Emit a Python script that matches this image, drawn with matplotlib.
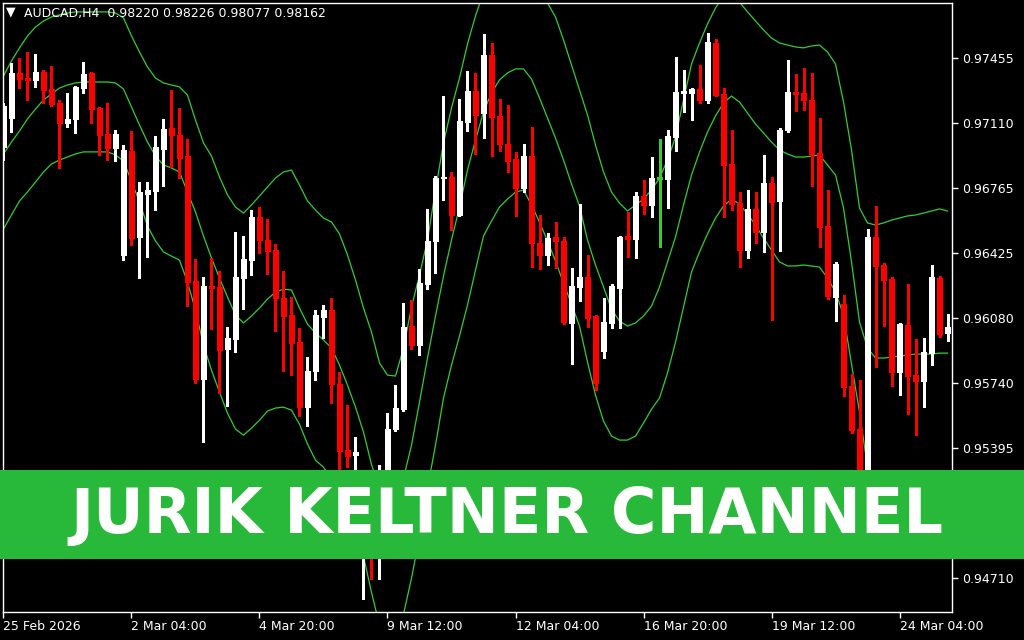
import matplotlib
matplotlib.use("Agg")
import matplotlib.pyplot as plt
from matplotlib.patches import Rectangle
import numpy as np

# ── AUDCAD H4 candles (bar index 0 = 25 Feb 2026) ─────────────
opens = [0.96987, 0.97140, 0.97378, 0.97351, 0.97341, 0.97383, 0.97293, 0.97219, 0.97114, 0.97135,
         0.97298, 0.97378, 0.97193, 0.97055, 0.96982, 0.96417, 0.96966, 0.96512, 0.96739, 0.96755,
         0.96976, 0.97087, 0.97050, 0.96939, 0.96280, 0.95762, 0.96253, 0.96248, 0.95920, 0.95973,
         0.96295, 0.96390, 0.96617, 0.96496, 0.96443, 0.96190, 0.96100, 0.95957, 0.95614, 0.95804,
         0.96089, 0.96126, 0.95736, 0.95387, 0.95360, 0.95123, 0.95229, 0.95017, 0.95176, 0.95498,
         0.95603, 0.96042, 0.95941, 0.96264, 0.96491, 0.96823, 0.96829, 0.96628, 0.97119, 0.97283,
         0.97166, 0.97473, 0.97151, 0.97003, 0.96924, 0.96770, 0.96939, 0.96480, 0.96417, 0.96512,
         0.96491, 0.96058, 0.96248, 0.96301, 0.96095, 0.95910, 0.96058, 0.96243, 0.96517, 0.96501,
         0.96728, 0.96681, 0.96823, 0.96818, 0.97040, 0.97276, 0.97272, 0.97293, 0.97235, 0.97536,
         0.97267, 0.96897, 0.96691, 0.96443, 0.96659, 0.96538, 0.96797, 0.96702, 0.97077, 0.97277,
         0.97272, 0.97235, 0.96955, 0.96570, 0.96195, 0.96158, 0.95725, 0.95498, 0.95176, 0.96512,
         0.96364, 0.96290, 0.95799, 0.96047, 0.95783, 0.95752, 0.95899, 0.96295, 0.96005]
highs = [0.97219, 0.97430, 0.97457, 0.97488, 0.97478, 0.97393, 0.97415, 0.97235, 0.97272, 0.97309,
         0.97436, 0.97383, 0.97198, 0.97219, 0.97077, 0.96997, 0.97071, 0.96802, 0.96802, 0.97045,
         0.97135, 0.97288, 0.97193, 0.97029, 0.96396, 0.96301, 0.96401, 0.96332, 0.96036, 0.96538,
         0.96517, 0.96654, 0.96670, 0.96607, 0.96475, 0.96332, 0.96195, 0.96031, 0.95878, 0.96126,
         0.96153, 0.96190, 0.95799, 0.95625, 0.95456, 0.95281, 0.95271, 0.95308, 0.95582, 0.95730,
         0.96163, 0.96179, 0.96343, 0.96659, 0.96834, 0.97256, 0.96855, 0.97240, 0.97388, 0.97378,
         0.97583, 0.97536, 0.97240, 0.97209, 0.96960, 0.97003, 0.97092, 0.96628, 0.96533, 0.96591,
         0.96512, 0.96348, 0.96686, 0.96417, 0.96100, 0.96190, 0.96264, 0.96517, 0.96644, 0.96749,
         0.96813, 0.96934, 0.97029, 0.97077, 0.97462, 0.97393, 0.97298, 0.97420, 0.97589, 0.97557,
         0.97298, 0.97077, 0.96749, 0.96760, 0.96749, 0.96945, 0.96829, 0.97087, 0.97446, 0.97372,
         0.97404, 0.97378, 0.97140, 0.96760, 0.96380, 0.96205, 0.95788, 0.95757, 0.96554, 0.96675,
         0.96375, 0.96301, 0.96058, 0.96264, 0.95973, 0.95978, 0.96364, 0.96306, 0.96105]
lows = [0.96918, 0.97066, 0.97298, 0.97235, 0.97304, 0.97219, 0.97203, 0.96876, 0.97092, 0.97061,
        0.97272, 0.97114, 0.96945, 0.96918, 0.96913, 0.96390, 0.96469, 0.96295, 0.96406, 0.96654,
        0.96781, 0.96881, 0.96823, 0.96147, 0.95741, 0.95429, 0.96026, 0.95688, 0.95619, 0.95904,
        0.96131, 0.96311, 0.96427, 0.96316, 0.96015, 0.95804, 0.95783, 0.95566, 0.95513, 0.95757,
        0.95978, 0.95635, 0.95255, 0.95296, 0.95281, 0.94600, 0.94706, 0.94706, 0.95123, 0.95487,
        0.95593, 0.95920, 0.95889, 0.96237, 0.96322, 0.96707, 0.96549, 0.96623, 0.97071, 0.96950,
        0.97034, 0.96939, 0.96966, 0.96855, 0.96623, 0.96749, 0.96353, 0.96343, 0.96364, 0.96348,
        0.96052, 0.95841, 0.96174, 0.96036, 0.95704, 0.95873, 0.96031, 0.96031, 0.96406, 0.96401,
        0.96633, 0.96617, 0.96459, 0.96665, 0.96966, 0.97172, 0.97129, 0.97219, 0.97219, 0.97256,
        0.96617, 0.96654, 0.96353, 0.96401, 0.96480, 0.96433, 0.96073, 0.96438, 0.97066, 0.97177,
        0.97182, 0.96781, 0.96459, 0.96184, 0.96068, 0.95672, 0.95477, 0.95097, 0.95123, 0.95825,
        0.96042, 0.95725, 0.95678, 0.95577, 0.95466, 0.95614, 0.95836, 0.95984, 0.95962]
closes = [0.97203, 0.97378, 0.97346, 0.97341, 0.97383, 0.97288, 0.97214, 0.97114, 0.97135, 0.97304,
          0.97372, 0.97187, 0.97050, 0.96982, 0.97055, 0.96971, 0.96506, 0.96749, 0.96760, 0.96987,
          0.97082, 0.97050, 0.96929, 0.96274, 0.95762, 0.96253, 0.96243, 0.95915, 0.95978, 0.96301,
          0.96396, 0.96617, 0.96496, 0.96438, 0.96190, 0.96095, 0.95952, 0.95614, 0.95804, 0.96100,
          0.96126, 0.95736, 0.95382, 0.95355, 0.95376, 0.95229, 0.95017, 0.95176, 0.95498, 0.95609,
          0.96036, 0.95941, 0.96269, 0.96491, 0.96823, 0.96829, 0.96628, 0.97124, 0.97283, 0.97156,
          0.97473, 0.97145, 0.97003, 0.96913, 0.96770, 0.96939, 0.96480, 0.96417, 0.96506, 0.96491,
          0.96063, 0.96253, 0.96301, 0.96084, 0.95741, 0.96063, 0.96253, 0.96512, 0.96501, 0.96728,
          0.96681, 0.96823, 0.96823, 0.97045, 0.97277, 0.97277, 0.97293, 0.97235, 0.97541, 0.97261,
          0.96892, 0.96686, 0.96443, 0.96659, 0.96538, 0.96797, 0.96696, 0.97077, 0.97277, 0.97267,
          0.97235, 0.96950, 0.96564, 0.96200, 0.96369, 0.95720, 0.95493, 0.95176, 0.96512, 0.96359,
          0.96285, 0.95799, 0.96052, 0.95778, 0.95752, 0.95904, 0.96301, 0.96000, 0.96036]

# Jurik Keltner channel (upper / middle / lower), one value per bar
kc_upper = [0.97362, 0.97441, 0.97510, 0.97573, 0.97620, 0.97652, 0.97673, 0.97684, 0.97694, 0.97700,
            0.97700, 0.97700, 0.97700, 0.97700, 0.97694, 0.97668, 0.97573, 0.97488, 0.97409, 0.97351,
            0.97325, 0.97314, 0.97304, 0.97261, 0.97129, 0.97008, 0.96939, 0.96829, 0.96734, 0.96670,
            0.96638, 0.96681, 0.96728, 0.96776, 0.96823, 0.96855, 0.96865, 0.96786, 0.96702, 0.96654,
            0.96612, 0.96591, 0.96528, 0.96417, 0.96285, 0.96137, 0.96010, 0.95847, 0.95783, 0.95778,
            0.95926, 0.96142, 0.96311, 0.96496, 0.96760, 0.97008, 0.97193, 0.97351, 0.97531, 0.97679,
            0.97805, 0.97879, 0.97943, 0.97974, 0.97985, 0.97974, 0.97921, 0.97826, 0.97747, 0.97673,
            0.97552, 0.97420, 0.97288, 0.97156, 0.96997, 0.96855, 0.96749, 0.96691, 0.96649, 0.96681,
            0.96712, 0.96760, 0.96823, 0.96918, 0.97040, 0.97235, 0.97425, 0.97536, 0.97636, 0.97721,
            0.97784, 0.97795, 0.97752, 0.97700, 0.97652, 0.97605, 0.97562, 0.97536, 0.97525, 0.97515,
            0.97510, 0.97520, 0.97525, 0.97488, 0.97425, 0.97224, 0.96971, 0.96665, 0.96586, 0.96575,
            0.96586, 0.96601, 0.96612, 0.96623, 0.96628, 0.96638, 0.96649, 0.96660, 0.96649]
kc_middle = [0.96950, 0.97013, 0.97071, 0.97135, 0.97187, 0.97235, 0.97267, 0.97298, 0.97314, 0.97325,
             0.97330, 0.97330, 0.97330, 0.97330, 0.97325, 0.97293, 0.97198, 0.97103, 0.97013, 0.96939,
             0.96892, 0.96876, 0.96855, 0.96749, 0.96644, 0.96517, 0.96401, 0.96295, 0.96195, 0.96100,
             0.96058, 0.96095, 0.96137, 0.96184, 0.96221, 0.96237, 0.96232, 0.96137, 0.96052, 0.96005,
             0.95968, 0.95926, 0.95836, 0.95730, 0.95614, 0.95482, 0.95311, 0.95186, 0.95123, 0.95155,
             0.95239, 0.95413, 0.95640, 0.95873, 0.96095, 0.96306, 0.96496, 0.96670, 0.96865, 0.97024,
             0.97172, 0.97272, 0.97341, 0.97378, 0.97399, 0.97399, 0.97346, 0.97246, 0.97140, 0.97034,
             0.96918, 0.96792, 0.96675, 0.96496, 0.96364, 0.96248, 0.96131, 0.96068, 0.96042, 0.96058,
             0.96095, 0.96147, 0.96248, 0.96380, 0.96512, 0.96681, 0.96839, 0.96960, 0.97066, 0.97151,
             0.97219, 0.97256, 0.97224, 0.97166, 0.97108, 0.97061, 0.97013, 0.96971, 0.96950, 0.96934,
             0.96934, 0.96939, 0.96945, 0.96892, 0.96839, 0.96665, 0.96380, 0.96063, 0.95926, 0.95873,
             0.95873, 0.95878, 0.95883, 0.95889, 0.95894, 0.95894, 0.95894, 0.95899, 0.95899]
kc_lower = [0.96554, 0.96628, 0.96702, 0.96749, 0.96802, 0.96855, 0.96897, 0.96918, 0.96934, 0.96950,
            0.96961, 0.96961, 0.96961, 0.96961, 0.96945, 0.96913, 0.96807, 0.96696, 0.96570, 0.96491,
            0.96433, 0.96411, 0.96390, 0.96274, 0.96126, 0.95941, 0.95809, 0.95693, 0.95582, 0.95498,
            0.95466, 0.95503, 0.95545, 0.95593, 0.95609, 0.95614, 0.95598, 0.95524, 0.95419, 0.95334,
            0.95297, 0.95234, 0.95128, 0.95023, 0.94912, 0.94827, 0.94637, 0.94463, 0.94373, 0.94384,
            0.94521, 0.94711, 0.94928, 0.95186, 0.95413, 0.95662, 0.95836, 0.95989, 0.96153, 0.96337,
            0.96517, 0.96596, 0.96670, 0.96712, 0.96749, 0.96760, 0.96681, 0.96591, 0.96491, 0.96385,
            0.96269, 0.96158, 0.96042, 0.95852, 0.95677, 0.95540, 0.95461, 0.95440, 0.95440, 0.95461,
            0.95530, 0.95603, 0.95662, 0.95794, 0.95957, 0.96142, 0.96327, 0.96433, 0.96528, 0.96612,
            0.96675, 0.96712, 0.96686, 0.96633, 0.96575, 0.96506, 0.96443, 0.96380, 0.96359, 0.96359,
            0.96364, 0.96359, 0.96353, 0.96295, 0.96221, 0.96100, 0.95841, 0.95588, 0.95297, 0.95202,
            0.95176, 0.95149, 0.95149, 0.95149, 0.95155, 0.95155, 0.95160, 0.95160, 0.95160]

# axis labels
price_labels = ['0.97455', '0.97110', '0.96765', '0.96425', '0.96080',
                '0.95740', '0.95395', '0.95050', '0.94710']
date_bars = [0, 16, 32, 48, 64, 80, 96, 112]
date_labels = ['25 Feb 2026', '2 Mar 04:00', '4 Mar 20:00', '9 Mar 12:00',
               '12 Mar 04:00', '16 Mar 20:00', '19 Mar 12:00', '24 Mar 04:00']
header = 'AUDCAD,H4  0.98220 0.98226 0.98077 0.98162'
banner = 'JURIK KELTNER CHANNEL'

BG = 'black'
BULL = 'white'
BEAR = '#ff0000'
DOJI = '#32cd32'
LINE = '#32cd32'
BANNER_GREEN = '#29b93a'

W, H = 1024, 640
fig = plt.figure(figsize=(W / 100, H / 100), dpi=100, facecolor=BG)
# plot area: x 3..952 px, y 3..612 px (from top)
ax = fig.add_axes([3 / W, 1 - 612 / H, 949 / W, 609 / H], facecolor=BG)

o = np.array(opens); hi = np.array(highs); lo = np.array(lows); c = np.array(closes)
x = np.arange(len(o))
col = np.where(c > o, BULL, np.where(c < o, BEAR, DOJI))

# wicks
ax.vlines(x, lo, hi, colors=col, linewidth=1.0, antialiased=False, zorder=2)
# bodies
body_w = 0.62
ax.bar(x, c - o, bottom=o, width=body_w, color=col, edgecolor=col,
       linewidth=0.6, antialiased=False, zorder=3)
# doji crosses
flat = np.abs(c - o) < 0.00003
ax.hlines(o[flat], x[flat] - body_w / 2, x[flat] + body_w / 2,
          colors=col[flat], linewidth=1.0, antialiased=False, zorder=3)

# channel lines
for series in (kc_upper, kc_middle, kc_lower):
    ax.plot(x, series, color=LINE, linewidth=0.9, zorder=1)

# scales: price 0.97455 at 58.3 px, 0.94710 at 578.4 px
ppx = (0.97455 - 0.94710) / (578.4 - 58.3)
ax.set_ylim(0.97455 - (612 - 58.3) * ppx, 0.97455 + (58.3 - 3) * ppx)
ax.set_xlim(-0.06, 118.56)

ax.yaxis.tick_right()
ax.set_yticks(np.linspace(0.97455, 0.94710, len(price_labels)))
ax.set_yticklabels(price_labels)
ax.set_xticks(date_bars)
ax.set_xticklabels(date_labels, ha='left')
ax.tick_params(axis='both', colors='white', labelcolor='white', length=4,
               width=1, direction='out', labelsize=9)
ax.tick_params(axis='y', pad=3)
ax.tick_params(axis='x', pad=2)
for sp in ax.spines.values():
    sp.set_color('white')
    sp.set_linewidth(1.0)

# header
fig.text(6 / W, 1 - 12 / H, '▼', color='white', fontsize=9, va='center', ha='left')
fig.text(24 / W, 1 - 14 / H, header, color='white', fontsize=9, va='center', ha='left')

# banner
fig.add_artist(Rectangle((0, 1 - 559 / H), 1, 89 / H, transform=fig.transFigure,
                         facecolor=BANNER_GREEN, edgecolor='none', zorder=5))
fs = 44 / 0.729 * 0.72
t = fig.text(506.5 / W, 1 - 533 / H, banner, color='white', fontsize=fs,
             fontfamily='DejaVu Sans', fontweight='bold',
             ha='center', va='baseline', zorder=6)
# stretch to the reference width (~871 px)
r = fig.canvas.get_renderer()
bw = t.get_window_extent(renderer=r).width
t.set_fontsize(fs * 871 / bw)

fig.savefig('out.png', dpi=100, facecolor=BG)
